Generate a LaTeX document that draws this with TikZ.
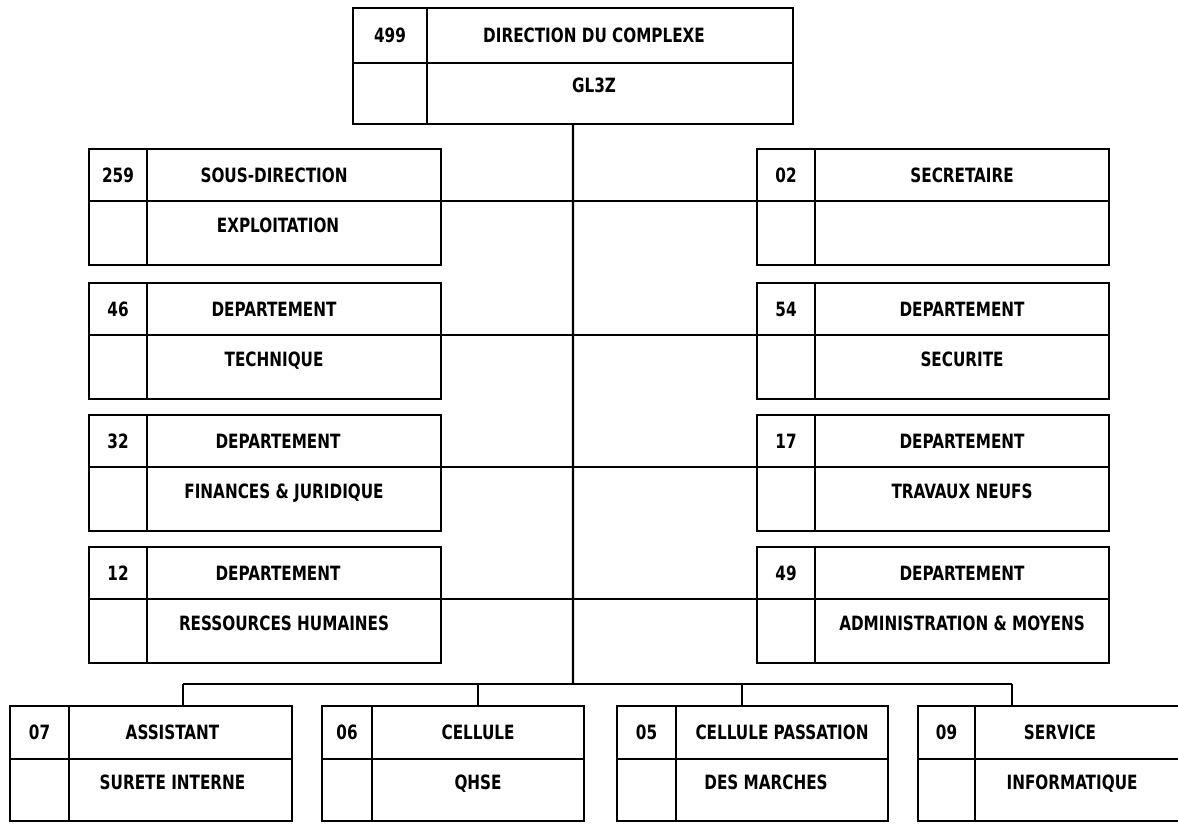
\documentclass[tikz,border=0pt]{standalone}
\usepackage{fontspec}
\setmainfont{DejaVu Sans Condensed}[FakeStretch=0.86]
\usepackage{tikz}
\usetikzlibrary{positioning,calc}

\begin{document}
\begin{tikzpicture}[
    x=0.025cm, y=-0.025cm,
    node distance=0pt,
    numcell/.style={draw, line width=1.9pt, anchor=north west, inner sep=0pt, outer sep=0pt, minimum width=1.45cm, minimum height=1.3cm, font=\fontsize{14}{16}\selectfont\bfseries},
    headcell/.style={numcell, minimum width=7.35cm},
    gapcell/.style={numcell, minimum height=1.6cm},
    subcell/.style={headcell, minimum height=1.6cm, text depth=0.4cm},
    leftish/.style={execute at end node=\hspace*{#1}},
    link/.style={line width=1.6pt}
]
    \path[use as bounding box, clip] (0,0) rectangle (1178,825);

    % Direction
    \node[numcell, minimum width=1.85cm, minimum height=1.375cm] (dir-num) at (353,8) {499};
    \node[headcell, minimum width=9.15cm, minimum height=1.375cm, leftish=0.8cm, right=of dir-num] (dir-head) {DIRECTION DU COMPLEXE};
    \node[gapcell, minimum width=1.85cm, minimum height=1.525cm, below=of dir-num] (dir-gap) {};
    \node[subcell, minimum width=9.15cm, minimum height=1.525cm, leftish=0.8cm, right=of dir-gap] (dir-sub) {GL3Z};

    % Left side
    \node[numcell] (sd-num) at (89,149) {259};
    \node[headcell, leftish=1cm, right=of sd-num] (sd-head) {SOUS-DIRECTION};
    \node[gapcell, below=of sd-num] (sd-gap) {};
    \node[subcell, leftish=0.8cm, right=of sd-gap] (sd-sub) {EXPLOITATION};

    \node[numcell] (tec-num) at (89,283) {46};
    \node[headcell, leftish=1cm, right=of tec-num] (tec-head) {DEPARTEMENT};
    \node[gapcell, below=of tec-num] (tec-gap) {};
    \node[subcell, leftish=1cm, right=of tec-gap] (tec-sub) {TECHNIQUE};

    \node[numcell] (fin-num) at (89,415) {32};
    \node[headcell, leftish=0.8cm, right=of fin-num] (fin-head) {DEPARTEMENT};
    \node[gapcell, below=of fin-num] (fin-gap) {};
    \node[subcell, leftish=0.5cm, right=of fin-gap] (fin-sub) {FINANCES \& JURIDIQUE};

    \node[numcell] (rh-num) at (89,547) {12};
    \node[headcell, leftish=0.8cm, right=of rh-num] (rh-head) {DEPARTEMENT};
    \node[gapcell, below=of rh-num] (rh-gap) {};
    \node[subcell, leftish=0.5cm, right=of rh-gap] (rh-sub) {RESSOURCES HUMAINES};

    % Right side
    \node[numcell] (sec-num) at (757,149) {02};
    \node[headcell, right=of sec-num] (sec-head) {SECRETAIRE};
    \node[gapcell, below=of sec-num] (sec-gap) {};
    \node[subcell, right=of sec-gap] (sec-sub) {};

    \node[numcell] (secu-num) at (757,283) {54};
    \node[headcell, right=of secu-num] (secu-head) {DEPARTEMENT};
    \node[gapcell, below=of secu-num] (secu-gap) {};
    \node[subcell, right=of secu-gap] (secu-sub) {SECURITE};

    \node[numcell] (tn-num) at (757,415) {17};
    \node[headcell, right=of tn-num] (tn-head) {DEPARTEMENT};
    \node[gapcell, below=of tn-num] (tn-gap) {};
    \node[subcell, right=of tn-gap] (tn-sub) {TRAVAUX NEUFS};

    \node[numcell] (adm-num) at (757,547) {49};
    \node[headcell, right=of adm-num] (adm-head) {DEPARTEMENT};
    \node[gapcell, below=of adm-num] (adm-gap) {};
    \node[subcell, right=of adm-gap] (adm-sub) {ADMINISTRATION \& MOYENS};

    % Bottom row
    \node[numcell, minimum width=1.475cm, minimum height=1.325cm] (ass-num) at (10,706) {07};
    \node[headcell, minimum width=5.575cm, minimum height=1.325cm, leftish=0.4cm, right=of ass-num] (ass-head) {ASSISTANT};
    \node[gapcell, minimum width=1.475cm, minimum height=1.55cm, below=of ass-num] (ass-gap) {};
    \node[subcell, minimum width=5.575cm, minimum height=1.55cm, leftish=0.4cm, right=of ass-gap] (ass-sub) {SURETE INTERNE};

    \node[numcell, minimum width=1.25cm, minimum height=1.325cm] (qhse-num) at (322,706) {06};
    \node[headcell, minimum width=5.3cm, minimum height=1.325cm, right=of qhse-num] (qhse-head) {CELLULE};
    \node[gapcell, minimum width=1.25cm, minimum height=1.55cm, below=of qhse-num] (qhse-gap) {};
    \node[subcell, minimum width=5.3cm, minimum height=1.55cm, right=of qhse-gap] (qhse-sub) {QHSE};

    \node[numcell, minimum width=1.475cm, minimum height=1.325cm] (pm-num) at (617,706) {05};
    \node[headcell, minimum width=5.3cm, minimum height=1.325cm, right=of pm-num] (pm-head) {CELLULE PASSATION};
    \node[gapcell, minimum width=1.475cm, minimum height=1.55cm, below=of pm-num] (pm-gap) {};
    \node[subcell, minimum width=5.3cm, minimum height=1.55cm, leftish=0.8cm, right=of pm-gap] (pm-sub) {DES MARCHES};

    \node[numcell, minimum width=1.425cm, minimum height=1.325cm] (info-num) at (918,706) {09};
    \node[headcell, minimum width=5.25cm, minimum height=1.325cm, leftish=1cm, right=of info-num] (info-head) {SERVICE};
    \node[gapcell, minimum width=1.425cm, minimum height=1.55cm, below=of info-num] (info-gap) {};
    \node[subcell, minimum width=5.25cm, minimum height=1.55cm, leftish=0.4cm, right=of info-gap] (info-sub) {INFORMATIQUE};

    % Links
    \coordinate (bus) at (573,684);
    \coordinate (bus-l) at (183,684);
    \coordinate (bus-r) at (1012,684);
    \draw[link] ($(dir-gap.south west)!0.5!(dir-sub.south east)$) -- (bus);
    \draw[link] (sd-head.south east) -- (sec-gap.north west);
    \draw[link] (tec-head.south east) -- (secu-gap.north west);
    \draw[link] (fin-head.south east) -- (tn-gap.north west);
    \draw[link] (rh-head.south east) -- (adm-gap.north west);
    \draw[link] (bus-l) -- (bus-r);
    \draw[link] (bus-l) -- (bus-l |- ass-head.north);
    \draw[link] (qhse-head.north |- bus) -- (qhse-head.north);
    \draw[link] ([xshift=-1cm]pm-head.north |- bus) -- ([xshift=-1cm]pm-head.north);
    \draw[link] (bus-r) -- (bus-r |- info-head.north);
\end{tikzpicture}
\end{document}
